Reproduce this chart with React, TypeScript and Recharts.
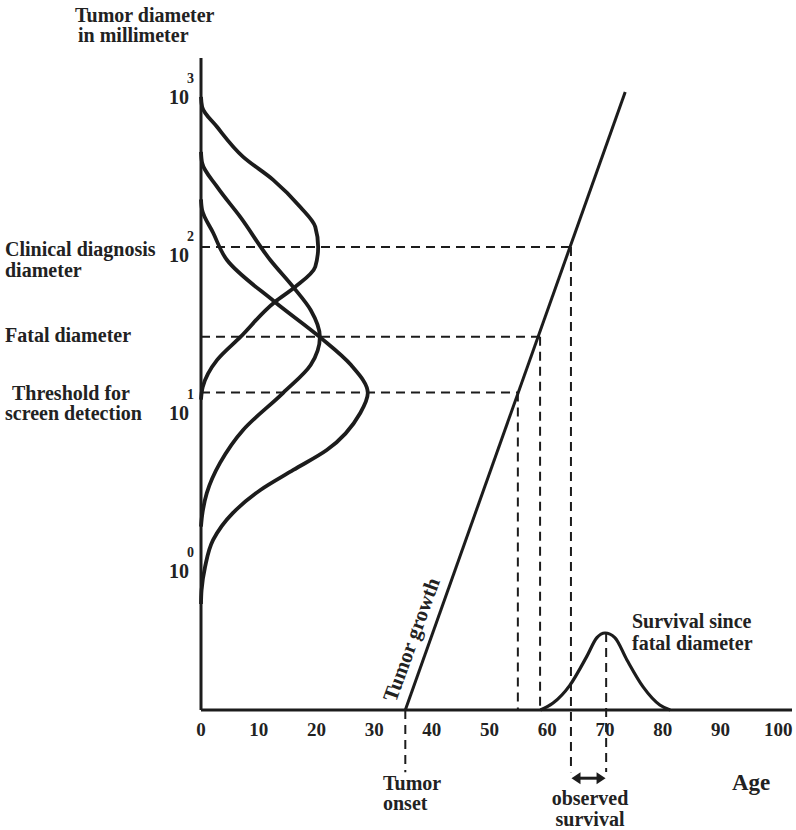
import React from "react";
import { ComposedChart, Line, XAxis, YAxis, ReferenceLine } from "recharts";

// age axis ticks and diameter (log) ticks
const ageTicks = [0, 10, 20, 30, 40, 50, 60, 70, 80, 90, 100];
const diameterTicks = [1, 10, 100, 1000];

// key diameters (mm) and the ages where tumor growth reaches them
const thresholdDiameter = 12;
const fatalDiameter = 27;
const clinicalDiameter = 100;
const onsetAge = 35.4;
const thresholdAge = 54.9;
const fatalAge = 58.75;
const clinicalAge = 64.1;
const survivalPeakAge = 70.2;

// sideways density curves: x = density (drawn on age axis), d = diameter in mm
const clinicalCurve = [
  { x: 0, d: 10.8 }, { x: 0.3, d: 13 }, { x: 2.8, d: 19.3 }, { x: 6.8, d: 26.9 },
  { x: 12.8, d: 44.9 }, { x: 16.3, d: 55.8 }, { x: 19.8, d: 75 }, { x: 20.3, d: 100 },
  { x: 19.8, d: 134 }, { x: 17.2, d: 179 }, { x: 12.5, d: 266 }, { x: 7.3, d: 372 },
  { x: 2.8, d: 574 }, { x: 0.2, d: 769 }, { x: 0, d: 890 },
];
const fatalCurve = [
  { x: 0, d: 1.7 }, { x: 0.2, d: 2.01 }, { x: 1, d: 2.77 }, { x: 3.3, d: 4.3 },
  { x: 7.3, d: 6.95 }, { x: 14.2, d: 11.9 }, { x: 19, d: 17.9 }, { x: 20.6, d: 27 },
  { x: 19, d: 39.9 }, { x: 16.1, d: 55.1 }, { x: 12, d: 82.7 }, { x: 6.8, d: 155 },
  { x: 2.8, d: 240 }, { x: 0.2, d: 340 }, { x: 0, d: 400 },
];
const thresholdCurve = [
  { x: 0, d: 0.55 }, { x: 0.1, d: 0.675 }, { x: 0.7, d: 0.944 }, { x: 2.1, d: 1.4 },
  { x: 5.5, d: 2.07 }, { x: 10.3, d: 2.9 }, { x: 16, d: 3.88 }, { x: 21.8, d: 5.19 },
  { x: 27.6, d: 8.9 }, { x: 28.9, d: 11.9 }, { x: 26, d: 17.9 }, { x: 20.6, d: 26.9 },
  { x: 12.8, d: 44.9 }, { x: 4.5, d: 82.7 }, { x: 2.1, d: 123 }, { x: 0.2, d: 171 },
  { x: 0, d: 200 },
];

// tumor growth (straight on log scale)
const growthLine = [
  { x: onsetAge, d: 0.1175 },
  { x: 73.5, d: 958 },
];

// survival since fatal diameter, relative density
const survivalCurve = [
  { x: 58.8, p: 0 }, { x: 61, p: 0.09 }, { x: 63.9, p: 0.32 }, { x: 66.8, p: 0.69 },
  { x: 68.6, p: 0.94 }, { x: 70, p: 1 }, { x: 71.7, p: 0.94 }, { x: 73.8, p: 0.65 },
  { x: 76.6, p: 0.3 }, { x: 79.5, p: 0.065 }, { x: 81.3, p: 0 },
];

const INK = "#1c1c1c";
const FONT = "'Liberation Serif', 'Times New Roman', serif";
const Y_MIN = 0.1175;
const Y_BELOW = 0.0475;
const ARROW_Y = 0.0435;

const PowerTick = (props: any) => {
  const { x, y, payload } = props;
  const exp = Math.round(Math.log10(payload.value));
  return (
    <g fill="#222" fontWeight="bold" fontFamily={FONT}>
      <text x={x - 2} y={y + 15} textAnchor="end" fontSize={20}>10</text>
      <text x={x - 4} y={y - 6} textAnchor="start" fontSize={14}>{exp}</text>
    </g>
  );
};

const DoubleArrow = (props: any) => {
  const { x1, y1, x2 } = props;
  const h = 6;
  const w = 9;
  return (
    <g>
      <line x1={x1 + 4} y1={y1} x2={x2 - 4} y2={y1} stroke={INK} strokeWidth={3} />
      <polygon points={`${x1},${y1} ${x1 + w},${y1 - h} ${x1 + w},${y1 + h}`} fill={INK} />
      <polygon points={`${x2},${y1} ${x2 - w},${y1 - h} ${x2 - w},${y1 + h}`} fill={INK} />
    </g>
  );
};

const dash = { stroke: INK, strokeWidth: 2, strokeDasharray: "9 6" };

export default function App() {
  return (
    <div style={{ position: "absolute", left: 0, top: 0, fontFamily: FONT, background: "#fff" }}>
      <ComposedChart width={796} height={830} margin={{ top: 58, right: 4, bottom: 90, left: 141 }}>
        <XAxis
          type="number"
          dataKey="x"
          domain={[0, 102.4]}
          ticks={ageTicks}
          interval={0}
          tickSize={0}
          tickMargin={13}
          height={30}
          axisLine={{ stroke: INK, strokeWidth: 3 }}
          tick={{ fontSize: 19, fontWeight: "bold", fill: "#222", fontFamily: FONT }}
        />
        <YAxis
          yAxisId="d"
          type="number"
          scale="log"
          domain={[Y_MIN, 1570]}
          ticks={diameterTicks}
          interval={0}
          width={60}
          tickSize={0}
          tickMargin={10}
          axisLine={{ stroke: INK, strokeWidth: 3 }}
          tickLine={false}
          tick={<PowerTick />}
        />
        <YAxis yAxisId="s" orientation="right" type="number" domain={[0, 8.47]} hide />

        {/* horizontal dashed guides */}
        <ReferenceLine yAxisId="d" segment={[{ x: 0, y: clinicalDiameter }, { x: clinicalAge, y: clinicalDiameter }]} {...dash} />
        <ReferenceLine yAxisId="d" segment={[{ x: 0, y: fatalDiameter }, { x: fatalAge, y: fatalDiameter }]} {...dash} />
        <ReferenceLine yAxisId="d" segment={[{ x: 0, y: thresholdDiameter }, { x: thresholdAge, y: thresholdDiameter }]} {...dash} />

        {/* vertical dashed guides */}
        <ReferenceLine yAxisId="d" segment={[{ x: thresholdAge, y: thresholdDiameter }, { x: thresholdAge, y: Y_MIN }]} {...dash} />
        <ReferenceLine yAxisId="d" segment={[{ x: fatalAge, y: fatalDiameter }, { x: fatalAge, y: Y_MIN }]} {...dash} />
        <ReferenceLine yAxisId="d" ifOverflow="visible" segment={[{ x: clinicalAge, y: clinicalDiameter }, { x: clinicalAge, y: Y_BELOW }]} {...dash} />
        <ReferenceLine yAxisId="d" ifOverflow="visible" segment={[{ x: onsetAge, y: Y_MIN }, { x: onsetAge, y: Y_BELOW }]} {...dash} />
        <ReferenceLine yAxisId="s" ifOverflow="visible" segment={[{ x: survivalPeakAge, y: 1 }, { x: survivalPeakAge, y: -0.805 }]} {...dash} />

        {/* observed survival arrow */}
        <ReferenceLine
          yAxisId="d"
          ifOverflow="visible"
          segment={[{ x: clinicalAge + 0.1, y: ARROW_Y }, { x: survivalPeakAge - 0.1, y: ARROW_Y }]}
          shape={<DoubleArrow />}
        />

        <Line yAxisId="d" data={clinicalCurve} dataKey="d" type="monotoneY" stroke={INK} strokeWidth={3.8} dot={false} activeDot={false} isAnimationActive={false} />
        <Line yAxisId="d" data={fatalCurve} dataKey="d" type="monotoneY" stroke={INK} strokeWidth={3.8} dot={false} activeDot={false} isAnimationActive={false} />
        <Line yAxisId="d" data={thresholdCurve} dataKey="d" type="monotoneY" stroke={INK} strokeWidth={3.8} dot={false} activeDot={false} isAnimationActive={false} />
        <Line yAxisId="d" data={growthLine} dataKey="d" type="linear" stroke={INK} strokeWidth={3} dot={false} activeDot={false} isAnimationActive={false} />
        <Line yAxisId="s" data={survivalCurve} dataKey="p" type="monotone" stroke={INK} strokeWidth={3.2} dot={false} activeDot={false} isAnimationActive={false} />

        <g fill="#222" fontWeight="bold" fontFamily={FONT} fontSize={20}>
          <text x={75} y={22}>Tumor diameter</text>
          <text x={78} y={42}>in millimeter</text>
          <text x={5} y={256}>Clinical diagnosis</text>
          <text x={5} y={277}>diameter</text>
          <text x={5} y={342}>Fatal diameter</text>
          <text x={12} y={400}>Threshold for</text>
          <text x={5} y={420}>screen detection</text>
          <text x={632} y={628}>Survival since</text>
          <text x={632} y={650}>fatal diameter</text>
          <text x={383} y={790}>Tumor</text>
          <text x={383} y={810}>onset</text>
          <text x={590} y={805} textAnchor="middle">observed</text>
          <text x={590} y={826} textAnchor="middle">survival</text>
          <text x={732} y={790} fontSize={23}>Age</text>
          <text x={0} y={0} textAnchor="middle" fontSize={21} transform="translate(418,642) rotate(-70)">Tumor growth</text>
        </g>
      </ComposedChart>
    </div>
  );
}
